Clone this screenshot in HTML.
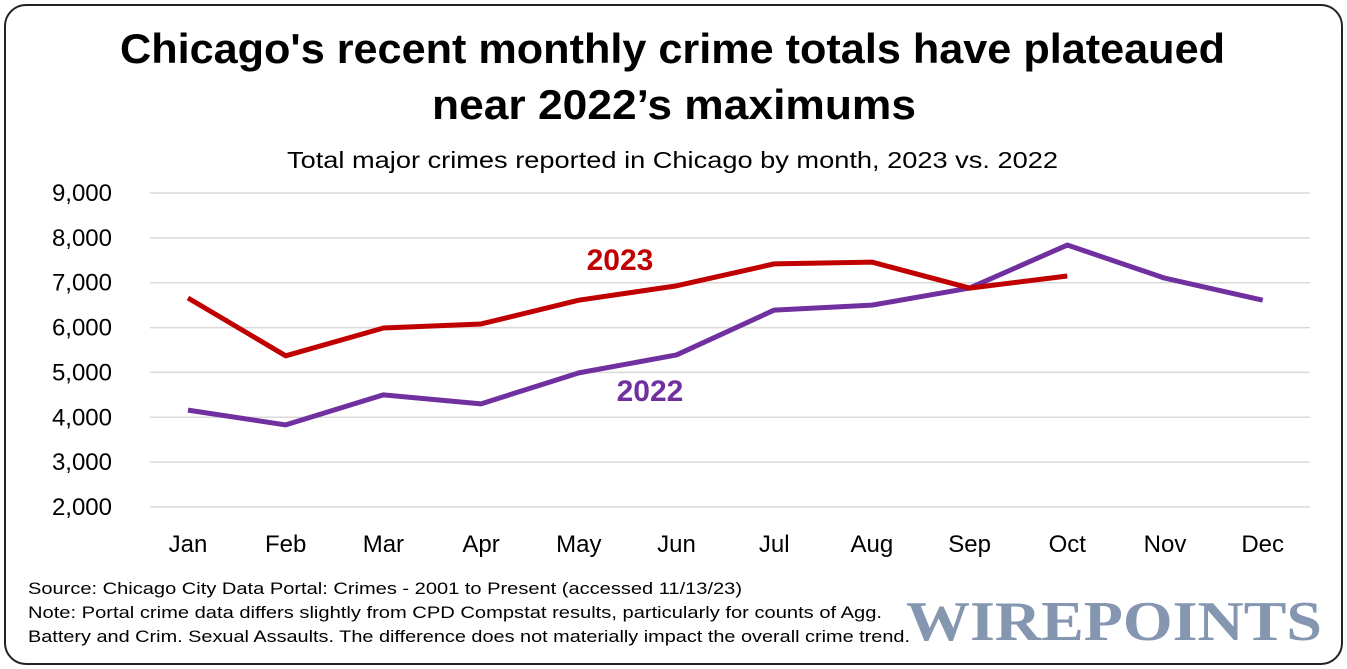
<!DOCTYPE html>
<html><head><meta charset="utf-8"><style>
body{margin:0;background:#fff;width:1347px;height:669px;overflow:hidden;font-family:"Liberation Sans",sans-serif;}
#frame{position:absolute;left:4px;top:4px;width:1335px;height:657px;border:2px solid #222;border-radius:22px;}
</style></head><body>
<div id="frame"></div>
<svg width="1347" height="669" style="position:absolute;left:0;top:0">
<text x="120" y="63" font-size="42" font-weight="bold" fill="#000" textLength="1105" lengthAdjust="spacingAndGlyphs">Chicago's recent monthly crime totals have plateaued</text>
<text x="432" y="119" font-size="42" font-weight="bold" fill="#000" textLength="484" lengthAdjust="spacingAndGlyphs">near 2022’s maximums</text>
<text x="287" y="168" font-size="23" fill="#000" textLength="771" lengthAdjust="spacingAndGlyphs">Total major crimes reported in Chicago by month, 2023 vs. 2022</text>
<g id="grid"></g><g id="yt"></g><g id="xt"></g><g id="lines"></g>
<text x="620" y="270" text-anchor="middle" font-size="30" font-weight="bold" fill="#c00000">2023</text>
<text x="650" y="401" text-anchor="middle" font-size="30" font-weight="bold" fill="#7030a0">2022</text>
<text x="28" y="594" font-size="17" fill="#000" textLength="714" lengthAdjust="spacingAndGlyphs">Source: Chicago City Data Portal: Crimes - 2001 to Present (accessed 11/13/23)</text>
<text x="28" y="618" font-size="17" fill="#000" textLength="854" lengthAdjust="spacingAndGlyphs">Note: Portal crime data differs slightly from CPD Compstat results, particularly for counts of Agg.</text>
<text x="28" y="642" font-size="17" fill="#000" textLength="882" lengthAdjust="spacingAndGlyphs">Battery and Crim. Sexual Assaults. The difference does not materially impact the overall crime trend.</text>
<text x="1322" y="640" text-anchor="end" font-family="Liberation Serif" font-size="56" font-weight="bold" fill="#8496b0" textLength="416" lengthAdjust="spacingAndGlyphs">WIREPOINTS</text>
</svg>
<script>
const months=["Jan","Feb","Mar","Apr","May","Jun","Jul","Aug","Sep","Oct","Nov","Dec"];
const yTicks=[2000,3000,4000,5000,6000,7000,8000,9000];
const s2023=[6660,5370,5990,6080,6610,6930,7420,7460,6880,7150];
const s2022=[4160,3830,4500,4300,4990,5390,6390,6500,6880,7840,7100,6610];
const NS="http://www.w3.org/2000/svg";
const y=v=>507-(v-2000)*(314/7000);
const x=i=>188+i*97.7;
function mk(t,a,p){const e=document.createElementNS(NS,t);for(const k in a)e.setAttribute(k,a[k]);document.getElementById(p).appendChild(e);return e;}
yTicks.forEach(v=>{
 const l=mk("line",{x1:150,x2:1310,y1:y(v),y2:y(v),stroke:"#d9d9d9","stroke-width":1.5},"grid");
 
 
 const t=mk("text",{x:112,y:y(v)+8,"text-anchor":"end","font-size":24,fill:"#000"},"yt");
 t.textContent=v.toLocaleString("en-US");
 
 
});
months.forEach((m,i)=>{
 const t=mk("text",{x:x(i),y:552,"text-anchor":"middle","font-size":24,fill:"#000"},"xt");
 t.textContent=m;
 
 
});
[[s2022,"#7030a0","line-2022"],[s2023,"#c00000","line-2023"]].forEach(([s,c,n])=>{
 const p=mk("polyline",{points:s.map((v,i)=>x(i)+","+y(v)).join(" "),fill:"none",stroke:c,"stroke-width":5,"stroke-linejoin":"round"},"lines");
 
 
});
</script>
</body></html>
